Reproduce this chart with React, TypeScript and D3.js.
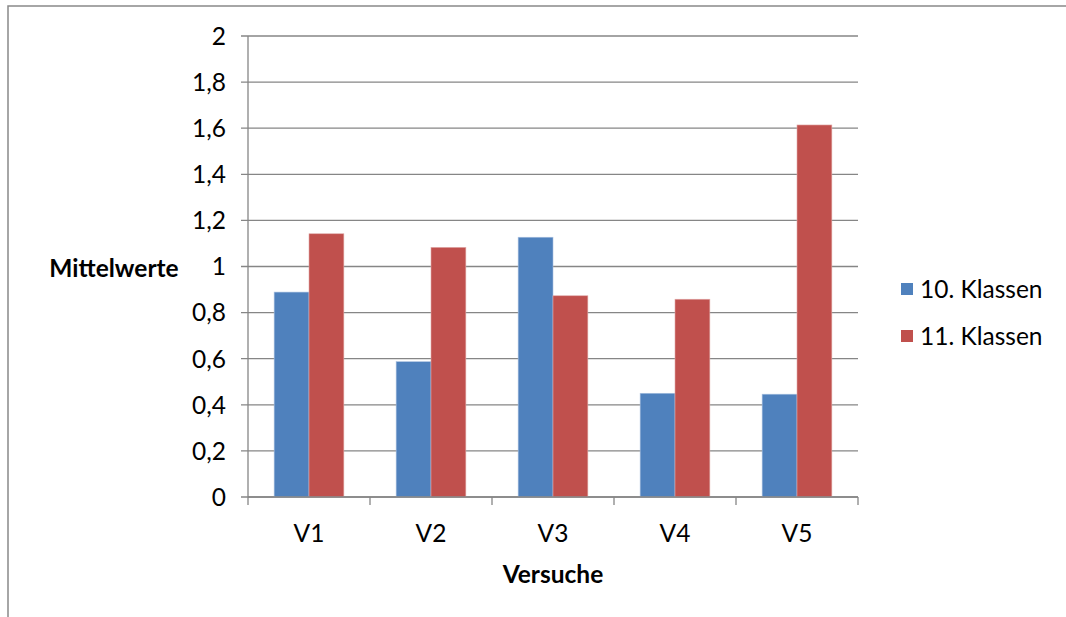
import React from "react";
import * as d3 from "d3";

const categories = ["V1", "V2", "V3", "V4", "V5"];
const seriesNames = ["10. Klassen", "11. Klassen"];
const klasse10 = [0.889, 0.587, 1.127, 0.45, 0.446];
const klasse11 = [1.142, 1.083, 0.873, 0.858, 1.614];
const yTicks = [0, 0.2, 0.4, 0.6, 0.8, 1, 1.2, 1.4, 1.6, 1.8, 2];

const colors = ["#4F81BD", "#C0504D"];
const FONT = "Lato, 'Open Sans', sans-serif";
const FS = 24.5;
const W = 1066;
const H = 617;

export default function App() {
  const left = 248;
  const right = 858;
  const top = 36;
  const bottom = 497;

  const x = d3.scaleBand<string>().domain(categories).range([left, right]).paddingInner(0).paddingOuter(0);
  const y = d3.scaleLinear().domain([0, 2]).range([bottom, top]);
  const bw = x.bandwidth() / 3.5;
  const series = [klasse10, klasse11];
  const fmt = (v: number) => d3.format(".1~f")(v).replace(".", ",");

  return (
    <svg width={W} height={H} style={{ position: "absolute", left: 0, top: 0, background: "#fff" }}>
      <rect x={8} y={6} width={W} height={H} fill="#fff" stroke="#898989" strokeWidth={1.5} />

      {/* gridlines and y ticks */}
      {yTicks.map((t) => (
        <g key={t}>
          <line x1={left - 7} x2={right} y1={y(t)} y2={y(t)} stroke="#868686" strokeWidth={1.3} />
          <text x={226} y={y(t)} dy="0.36em" textAnchor="end" fontFamily={FONT} fontSize={FS} fill="#000">
            {fmt(t)}
          </text>
        </g>
      ))}

      {/* bars */}
      {series.map((vals, si) =>
        vals.map((v, i) => {
          const bx = (x(categories[i]) as number) + x.bandwidth() / 2 - bw + si * bw;
          return (
            <rect
              key={`${si}-${i}`}
              x={bx}
              y={y(v)}
              width={bw}
              height={y(0) - y(v)}
              fill={colors[si]}
              stroke={si === 0 ? "#a9c0e0" : "#e0a9a8"}
              strokeWidth={0.6}
            />
          );
        })
      )}

      {/* axes */}
      <line x1={left} x2={left} y1={top} y2={bottom} stroke="#868686" strokeWidth={1.3} />
      <line x1={left} x2={right} y1={bottom} y2={bottom} stroke="#868686" strokeWidth={1.3} />
      {[...categories.map((c) => x(c) as number), right].map((px, i) => (
        <line key={i} x1={px} x2={px} y1={bottom} y2={bottom + 8} stroke="#868686" strokeWidth={1.3} />
      ))}
      {categories.map((c) => (
        <text
          key={c}
          x={(x(c) as number) + x.bandwidth() / 2}
          y={533}
          dy="0.36em"
          textAnchor="middle"
          fontFamily={FONT}
          fontSize={FS}
          fill="#000"
        >
          {c}
        </text>
      ))}

      {/* axis titles */}
      <text x={(left + right) / 2} y={574} dy="0.36em" textAnchor="middle" fontFamily={FONT} fontSize={FS} fontWeight="bold">
        Versuche
      </text>
      <text x={114} y={268} dy="0.36em" textAnchor="middle" fontFamily={FONT} fontSize={FS} fontWeight="bold">
        Mittelwerte
      </text>

      {/* legend */}
      {seriesNames.map((n, i) => (
        <g key={n} transform={`translate(901, ${289 + i * 47})`}>
          <rect x={0} y={-6} width={12} height={12} fill={colors[i]} />
          <text x={19} y={0} dy="0.36em" fontFamily={FONT} fontSize={FS} fill="#000">
            {n}
          </text>
        </g>
      ))}
    </svg>
  );
}
